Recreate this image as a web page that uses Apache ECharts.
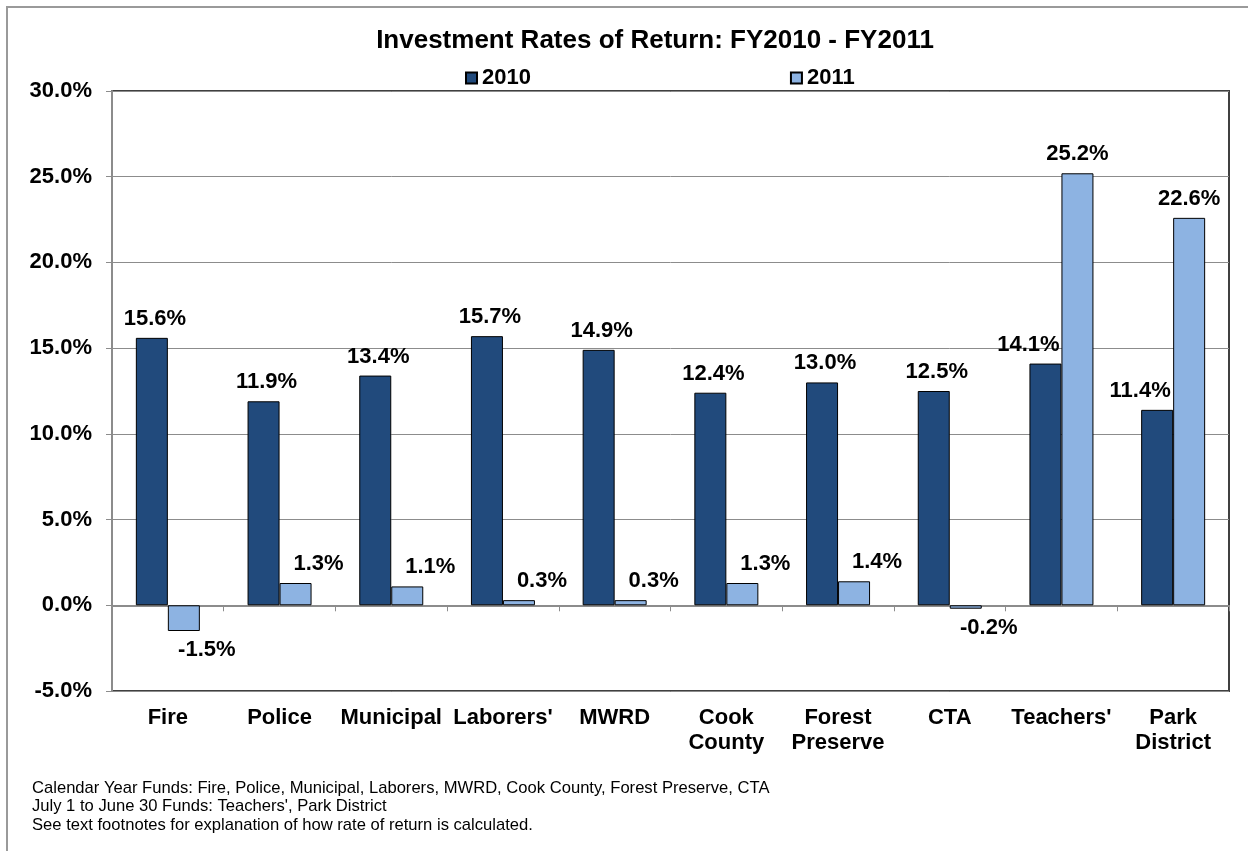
<!DOCTYPE html>
<html>
<head>
<meta charset="utf-8">
<title>Investment Rates of Return: FY2010 - FY2011</title>
<script src="https://cdn.jsdelivr.net/npm/echarts@6/dist/echarts.min.js"></script>
<style>
  html, body { margin: 0; padding: 0; background: #fff; }
  #chart { width: 1248px; height: 851px; }
</style>
</head>
<body>
<div id="chart"></div>
<script>
// data
const funds = ['Fire', 'Police', 'Municipal', "Laborers'", 'MWRD', 'Cook\nCounty', 'Forest\nPreserve', 'CTA', "Teachers'", 'Park\nDistrict']
const rate2010 = [15.6, 11.9, 13.4, 15.7, 14.9, 12.4, 13.0, 12.5, 14.1, 11.4]
const rate2011 = [-1.5, 1.3, 1.1, 0.3, 0.3, 1.3, 1.4, -0.2, 25.2, 22.6]
const yTicks = { min: -5, max: 30, interval: 5 }
const footnotes = [
  'Calendar Year Funds: Fire, Police, Municipal, Laborers, MWRD, Cook County, Forest Preserve, CTA',
  "July 1 to June 30 Funds: Teachers', Park District",
  'See text footnotes for explanation of how rate of return is calculated.'
]

const FONT = 'Arial, "Liberation Sans", Helvetica, sans-serif'
const DARK = '#214a7c'
const LIGHT = '#8db3e2'

const labelBase = {
  show: true,
  fontFamily: FONT,
  fontWeight: 'bold',
  fontSize: 22,
  color: '#000',
  distance: 8,
  formatter: p => p.value.toFixed(1) + '%'
}

// 2010 labels shift left when the 2011 bar next to them is taller
const data2010 = rate2010.map((v, i) => ({
  value: v,
  label: rate2011[i] > v ? { offset: [-17, 0] } : { offset: [3, 0] }
}))
// small 2011 bars get their label nudged right, as in the original
const data2011 = rate2011.map(v => ({
  value: v,
  label: Math.abs(v) < 5
    ? { position: v < 0 ? 'bottom' : 'top', offset: [23, 0] }
    : { position: 'top' }
}))

const chart = echarts.init(document.getElementById('chart'), null, { renderer: 'canvas' })

chart.setOption({
  backgroundColor: '#fff',
  animation: false,
  textStyle: { fontFamily: FONT },
  title: {
    text: 'Investment Rates of Return: FY2010 - FY2011',
    left: 650,
    textAlign: 'center',
    top: 23,
    textStyle: { fontFamily: FONT, fontWeight: 'bold', fontSize: 26, color: '#000' }
  },
  legend: {
    left: 460,
    top: 62,
    itemWidth: 11,
    itemHeight: 11,
    itemGap: 259,
    icon: 'rect',
    textStyle: { fontFamily: FONT, fontWeight: 'bold', fontSize: 22, color: '#000' },
    data: ['2010', '2011']
  },
  grid: {
    left: 112,
    right: 19,
    top: 91,
    bottom: 160,
    show: true,
    borderColor: '#404040',
    borderWidth: 2,
    backgroundColor: 'transparent'
  },
  xAxis: [
    {
      type: 'category',
      data: funds,
      position: 'bottom',
      axisLine: { onZero: false, show: false },
      axisTick: { show: false },
      axisLabel: {
        interval: 0,
        margin: 14,
        fontFamily: FONT,
        fontWeight: 'bold',
        fontSize: 22,
        lineHeight: 25,
        color: '#000',
        verticalAlign: 'top'
      },
      splitLine: { show: false }
    },
    {
      type: 'category',
      data: funds,
      position: 'bottom',
      axisLine: { onZero: true, lineStyle: { color: '#8c8c8c', width: 2 } },
      axisTick: { show: true, length: 6, inside: false, lineStyle: { color: '#8c8c8c' } },
      axisLabel: { show: false },
      splitLine: { show: false }
    }
  ],
  yAxis: {
    type: 'value',
    min: yTicks.min,
    max: yTicks.max,
    interval: yTicks.interval,
    axisLine: { show: true, lineStyle: { color: '#8c8c8c', width: 2 } },
    axisTick: { show: true, length: 6, lineStyle: { color: '#8c8c8c' } },
    axisLabel: {
      margin: 20,
      fontFamily: FONT,
      fontWeight: 'bold',
      fontSize: 22,
      color: '#000',
      formatter: v => v.toFixed(1) + '%'
    },
    splitLine: { show: true, lineStyle: { color: '#8c8c8c', width: 1 } }
  },
  series: [
    {
      name: '2010',
      type: 'bar',
      xAxisIndex: 0,
      barWidth: 32,
      barGap: '0%',
      data: data2010,
      itemStyle: { color: DARK, borderColor: '#000', borderWidth: 1 },
      label: Object.assign({}, labelBase, { position: 'top' })
    },
    {
      name: '2011',
      type: 'bar',
      xAxisIndex: 0,
      barWidth: 32,
      barGap: '0%',
      data: data2011,
      itemStyle: { color: LIGHT, borderColor: '#000', borderWidth: 1 },
      label: Object.assign({}, labelBase)
    }
  ],
  graphic: [
    {
      type: 'polyline',
      shape: { points: [[7, 851], [7, 7], [1248, 7]] },
      style: { stroke: '#9a9a9a', lineWidth: 2, fill: null },
      silent: true
    },
    {
      type: 'text',
      left: 32,
      top: 779,
      style: {
        text: footnotes.join('\n'),
        font: '16.6px ' + FONT,
        lineHeight: 18.5,
        fill: '#000'
      }
    }
  ]
})

window.addEventListener('resize', () => chart.resize())
</script>
</body>
</html>
